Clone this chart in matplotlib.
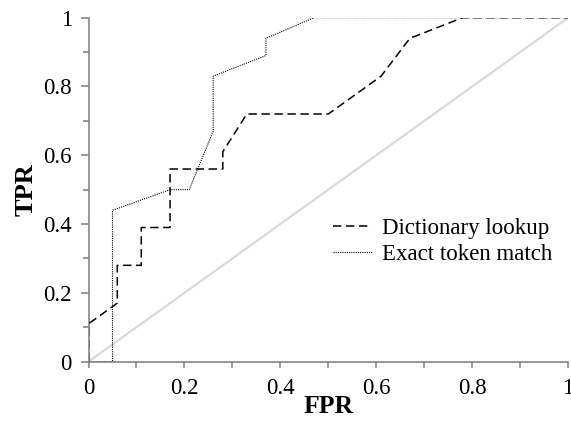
import numpy as np
import matplotlib
matplotlib.use("Agg")
import matplotlib.pyplot as plt
from matplotlib.ticker import MultipleLocator, FormatStrFormatter

plt.rcParams['font.family'] = ['Liberation Serif', 'DejaVu Serif']

# ROC points
dict_fpr = [0, 0, 0.06, 0.06, 0.11, 0.11, 0.17, 0.17, 0.28, 0.28, 0.33, 0.50, 0.61, 0.67, 0.78, 1.0]
dict_tpr = [0, 0.11, 0.17, 0.28, 0.28, 0.39, 0.39, 0.56, 0.56, 0.61, 0.72, 0.72, 0.83, 0.94, 1.0, 1.0]

exact_fpr = [0, 0.05, 0.05, 0.17, 0.21, 0.26, 0.26, 0.37, 0.37, 0.47, 1.0]
exact_tpr = [0, 0, 0.44, 0.50, 0.50, 0.67, 0.83, 0.89, 0.94, 1.0, 1.0]

labels = ['Dictionary lookup', 'Exact token match']

fig = plt.figure(figsize=(5.71, 4.21), dpi=100)
ax = fig.add_axes([0.155, 0.141, 0.84, 0.817])

ax.plot([0, 1], [0, 1], color='#d9d9d9', lw=1.6, zorder=1)
ax.plot(dict_fpr, dict_tpr, color='black', lw=1.1, linestyle=(0, (5.5, 3)), label=labels[0], zorder=3)
ax.plot(exact_fpr, exact_tpr, color='black', lw=0.8, linestyle=(0, (1, 1)), label=labels[1], zorder=2)

ax.set_xlim(0, 1)
ax.set_ylim(0, 1)
for s in ['top', 'right']:
    ax.spines[s].set_visible(False)
for s in ['left', 'bottom']:
    ax.spines[s].set_color('#868686')
    ax.spines[s].set_linewidth(1.2)

ax.xaxis.set_major_locator(MultipleLocator(0.2))
ax.yaxis.set_major_locator(MultipleLocator(0.2))
ax.xaxis.set_minor_locator(MultipleLocator(0.1))
ax.yaxis.set_minor_locator(MultipleLocator(0.1))
ax.xaxis.set_major_formatter(FormatStrFormatter('%g'))
ax.yaxis.set_major_formatter(FormatStrFormatter('%g'))
ax.tick_params(which='both', direction='out', color='#868686', width=1.2, length=4, labelsize=16.5)
ax.tick_params(axis='y', which='major', length=6, pad=6)
ax.tick_params(axis='x', which='major', pad=8)

ax.set_xlabel('FPR', fontsize=18.5, fontweight='bold', labelpad=-3)
ax.set_ylabel('TPR', fontsize=19, fontweight='bold', labelpad=4)

ax.legend(loc='center left', bbox_to_anchor=(0.485, 0.35), frameon=False, fontsize=16.5,
          handlelength=1.7, handletextpad=0.45, labelspacing=0.2, borderpad=0)

fig.savefig('out.png', dpi=100)
